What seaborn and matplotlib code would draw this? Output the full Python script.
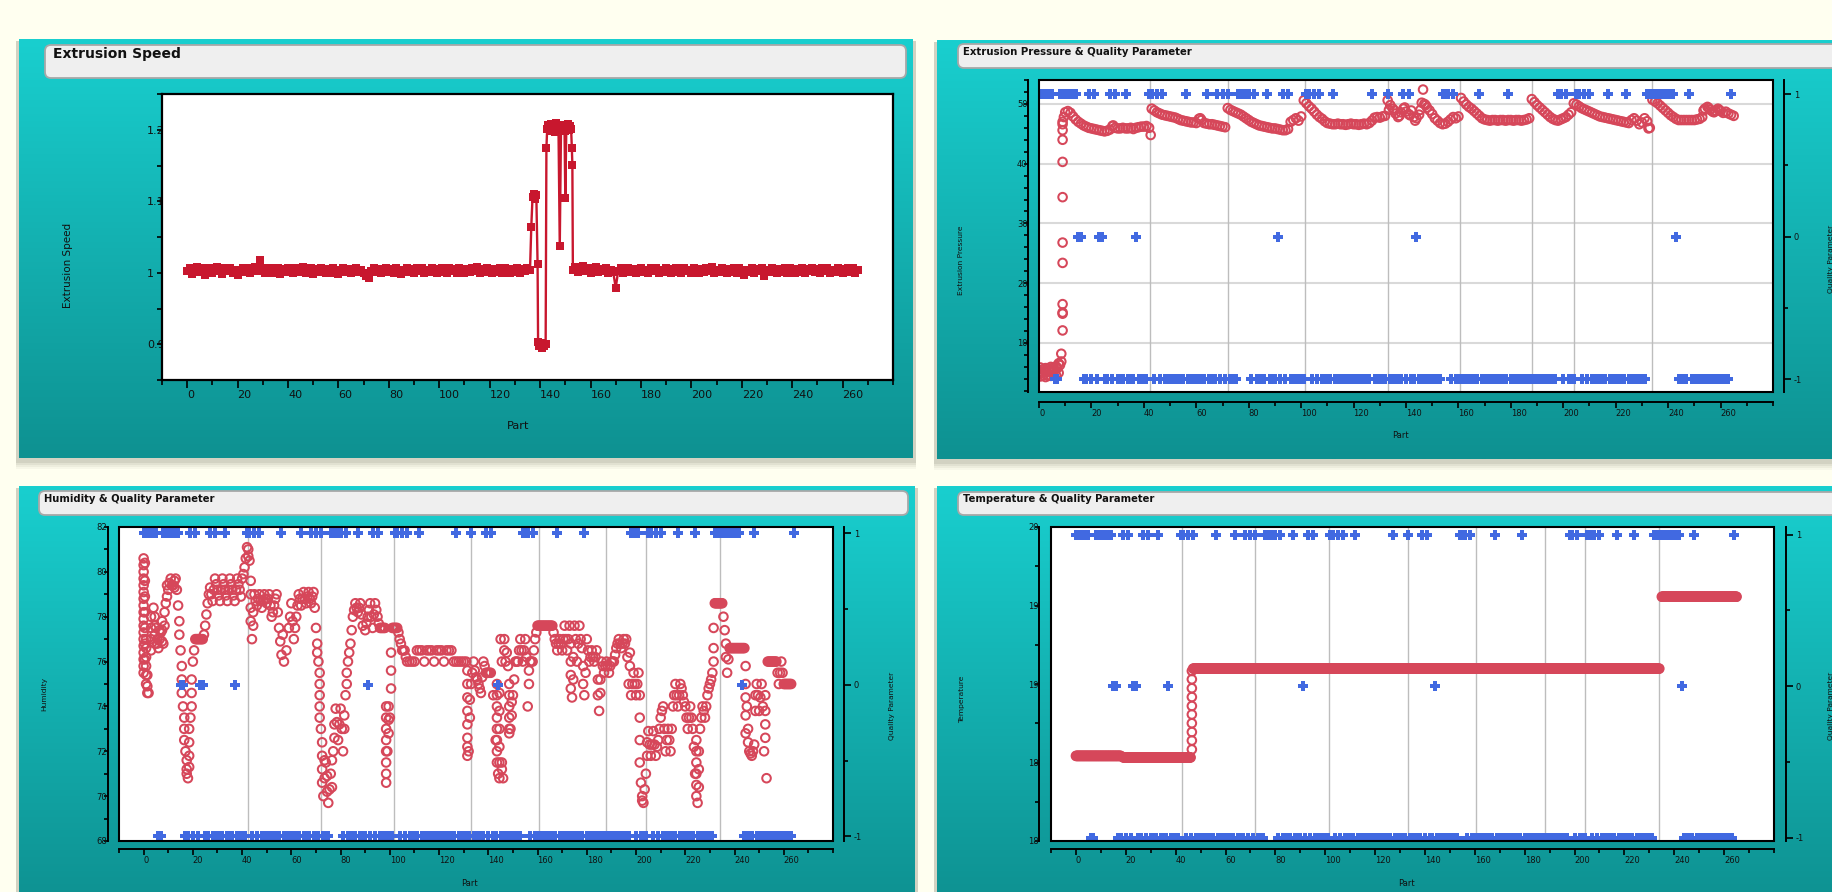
import numpy as np
import pandas as pd
import matplotlib
matplotlib.use("Agg")
import matplotlib.pyplot as plt
import seaborn as sns
from matplotlib.patches import FancyBboxPatch, Rectangle
from matplotlib.colors import LinearSegmentedColormap
from matplotlib.transforms import Bbox

# ------------------------------------------------------------------ data
# Extrusion speed: parts 0..135, anomaly region, parts 153..266
speed_parts_a = list(range(0, 136))
speed_a = [
    1.002, 1.007, 0.998, 1.004, 1.008, 1.001, 1.006, 0.997, 1.003, 1.007,
    1.000, 1.005, 1.008, 1.002, 0.998, 1.006, 1.003, 1.007, 1.000, 1.004,
    0.997, 1.003, 1.007, 1.001, 1.006, 0.999, 1.004, 1.008, 1.003, 1.018,
    1.006, 1.000, 1.004, 1.007, 0.999, 1.003, 1.006, 0.998, 1.005, 1.001,
    1.007, 1.003, 0.999, 1.006, 1.001, 1.004, 1.008, 1.000, 1.003, 1.006,
    0.998, 1.005, 1.001, 1.007, 1.003, 0.999, 1.005, 1.000, 1.006, 1.003,
    0.998, 1.004, 1.007, 1.001, 1.005, 0.999, 1.003, 1.006, 1.001, 1.004,
    1.000, 0.996, 0.992, 1.003, 1.006, 1.001, 1.005, 0.999, 1.003, 1.007,
    1.001, 1.005, 1.000, 1.006, 1.003, 0.998, 1.004, 1.007, 1.001, 1.005,
    1.000, 1.006, 1.003, 1.007, 0.999, 1.004, 1.001, 1.006, 1.003, 1.000,
    1.005, 1.007, 1.001, 0.999, 1.006, 1.003, 1.005, 1.000, 1.007, 1.003,
    0.999, 1.005, 1.001, 1.006, 1.003, 1.008, 1.000, 1.005, 1.001, 1.007,
    1.003, 0.999, 1.005, 1.001, 1.006, 1.000, 1.007, 1.003, 0.999, 1.005,
    1.001, 1.006, 1.000, 1.005, 1.003, 1.007,
]
speed_parts_b = [136.0, 136.5, 137.0, 137.5, 138.0, 138.5, 139.0, 139.2, 139.7, 140.2,
                 140.7, 141.2, 141.7, 142.2, 142.5, 142.8, 143.3, 143.8, 144.3, 144.8,
                 145.3, 145.8, 146.3, 146.8, 147.3, 147.8, 148.3, 148.8, 149.3, 149.7,
                 150.0, 150.4, 150.9, 151.4, 151.9, 152.3, 152.6, 152.8]
speed_b = [1.004, 1.064, 1.106, 1.110, 1.103, 1.109, 1.012, 0.903, 0.898, 0.902,
           0.895, 0.900, 0.897, 0.901, 1.174, 1.201, 1.206, 1.198, 1.208, 1.200,
           1.204, 1.197, 1.209, 1.202, 1.199, 1.037, 1.205, 1.200, 1.207, 1.198,
           1.104, 1.203, 1.208, 1.199, 1.205, 1.201, 1.174, 1.151]
speed_parts_c = list(range(153, 267))
speed_c = [
    1.004, 1.008, 1.001, 1.005, 1.009, 1.003, 1.007, 1.000, 1.004, 1.008,
    1.001, 1.005, 1.003, 1.007, 0.999, 1.004, 1.001, 0.979, 1.003, 1.006,
    1.000, 1.004, 1.007, 1.001, 1.005, 0.999, 1.003, 1.007, 1.001, 1.004,
    1.000, 1.006, 1.003, 1.007, 0.999, 1.004, 1.001, 1.006, 1.003, 1.000,
    1.005, 1.007, 1.001, 0.999, 1.006, 1.003, 1.004, 1.000, 1.007, 1.003,
    0.999, 1.005, 1.001, 1.006, 1.003, 1.008, 1.000, 1.004, 1.001, 1.007,
    1.003, 0.999, 1.005, 1.001, 1.006, 1.000, 1.007, 1.003, 0.997, 1.004,
    1.001, 1.006, 1.000, 1.005, 1.003, 1.007, 0.996, 1.004, 1.001, 1.007,
    1.003, 0.999, 1.005, 1.001, 1.006, 1.000, 1.007, 1.003, 0.999, 1.005,
    1.001, 1.006, 1.000, 1.005, 1.003, 1.007, 1.001, 1.005, 1.000, 1.006,
    1.003, 1.007, 0.999, 1.004, 1.001, 1.006, 1.003, 1.000, 1.005, 1.007,
    1.001, 1.006, 1.000, 1.004,
]

# Extrusion pressure, one reading per part 0..265
pressure = [
    5.2, 5.0, 5.3, 5.1, 5.4, 5.2, 5.5, 5.8, 6.3, 47.0,
    48.6, 48.8, 48.5, 47.9, 47.4, 47.0, 46.7, 46.4, 46.2, 46.0,
    45.9, 45.8, 45.7, 45.6, 45.5, 45.4, 45.5, 45.7, 46.3, 46.0,
    45.9, 45.9, 46.0, 45.9, 45.9, 46.0, 45.8, 46.0, 46.1, 46.2,
    46.2, 46.3, 46.0, 49.2, 48.9, 48.6, 48.4, 48.2, 48.1, 48.0,
    47.9, 47.8, 47.7, 47.5, 47.3, 47.2, 47.1, 47.0, 46.9, 46.9,
    46.8, 47.5, 47.3, 46.8, 46.7, 46.6, 46.6, 46.5, 46.4, 46.3,
    46.2, 46.1, 49.3, 49.0, 48.8, 48.6, 48.4, 48.2, 47.9, 47.6,
    47.3, 47.0, 46.8, 46.6, 46.4, 46.3, 46.2, 46.1, 46.0, 45.9,
    45.9, 45.8, 45.7, 45.6, 45.6, 45.8, 47.0, 47.3, 47.6, 47.2,
    47.9, 50.6, 50.1, 49.6, 49.2, 48.7, 48.2, 47.8, 47.5, 47.1,
    46.8, 46.7, 46.6, 46.6, 46.7, 46.6, 46.6, 46.5, 46.6, 46.7,
    46.6, 46.6, 46.5, 46.6, 46.7, 46.6, 46.8, 47.2, 47.7, 47.8,
    47.7, 47.9, 48.0, 50.6, 49.8, 49.2, 48.4, 47.8, 48.6, 49.2,
    48.7, 48.3, 48.9, 47.8, 47.6, 48.2, 50.2, 50.0, 49.4, 48.9,
    48.3, 47.6, 47.2, 46.8, 46.6, 46.7, 47.0, 47.4, 47.8, 47.6,
    47.9, 51.0, 50.4, 49.9, 49.5, 49.2, 48.8, 48.4, 48.0, 47.6,
    47.4, 47.3, 47.2, 47.3, 47.3, 47.2, 47.3, 47.3, 47.2, 47.3,
    47.3, 47.2, 47.3, 47.3, 47.2, 47.3, 47.4, 47.6, 50.8, 50.3,
    49.8, 49.4, 49.0, 48.6, 48.2, 47.8, 47.5, 47.3, 47.2, 47.4,
    47.6, 47.8, 48.2, 48.6, 50.1, 49.9, 49.6, 49.3, 49.1, 48.9,
    48.7, 48.5, 48.3, 48.1, 47.9, 47.8, 47.7, 47.6, 47.5, 47.4,
    47.3, 47.2, 47.1, 47.0, 46.9, 46.8, 47.3, 47.6, 47.2, 46.6,
    46.9, 47.6, 47.1, 46.0, 50.7, 50.4, 50.1, 49.7, 49.3, 48.9,
    48.5, 48.1, 47.8, 47.5, 47.3, 47.3, 47.3, 47.3, 47.3, 47.3,
    47.3, 47.4, 47.5, 47.8, 49.2, 49.5, 49.0, 48.7, 48.9, 49.2,
    48.8, 48.5, 48.7, 48.4, 48.2, 48.0,
]
# additional readings stacked at one part position (start-up ramp, outliers)
pressure_columns = [
    (0.5, [4.4, 5.9]), (1.5, [4.6, 5.6]), (2.5, [4.3, 5.8]), (3.5, [4.5, 5.7]),
    (4.5, [4.5, 6.0]), (5.5, [4.7, 5.9]), (6.5, [4.6, 6.1]),
    (7.5, [5.0, 6.6]), (8.5, [6.9, 8.2]),
    (9.0, [12.1, 14.9, 15.1, 16.5, 23.4, 26.8, 34.4, 40.3, 44.0, 45.6, 46.6]),
    (9.5, [47.8]), (28.3, [46.4]), (42.6, [44.8]), (61.5, [47.6]),
    (146.5, [52.4]), (232.5, [45.9]),
    (133.5, [49.0]), (135.5, [48.9]), (137.5, [48.0]), (139.5, [49.4]),
    (141.5, [48.1]), (143.5, [47.2]), (145.5, [49.0]), (147.5, [49.8]),
    (253.5, [48.9]), (255.5, [49.3]), (257.5, [48.6]), (259.5, [49.0]),
]

# Humidity, one reading per part 0..263
humidity = [
    80.6, 77.0, 74.6, 76.5, 78.4, 77.5, 76.6, 77.3, 76.8, 78.6,
    79.2, 79.7, 79.4, 79.7, 78.5, 76.5, 74.0, 72.0, 70.8, 73.5,
    76.0, 77.0, 77.0, 77.0, 77.0, 77.6, 78.6, 79.3, 78.7, 79.7,
    79.2, 78.7, 79.7, 79.2, 78.7, 79.7, 79.2, 78.7, 79.7, 79.2,
    79.7, 80.2, 81.1, 80.5, 77.0, 79.0, 78.5, 79.0, 78.4, 79.0,
    78.6, 79.0, 78.0, 78.5, 79.0, 77.5, 76.3, 76.0, 76.5, 77.5,
    78.6, 77.0, 78.0, 79.0, 78.5, 79.1, 78.6, 79.1, 78.6, 79.1,
    77.5, 76.0, 73.0, 70.0, 71.5, 69.7, 71.0, 72.0, 73.9, 72.5,
    73.9, 72.0, 74.5, 76.0, 76.8, 78.0, 78.6, 78.2, 78.6, 77.6,
    77.4, 78.0, 78.6, 77.5, 78.6, 78.0, 77.5, 77.5, 77.5, 72.0,
    73.5, 77.5, 77.5, 77.5, 77.0, 76.5, 76.5, 76.0, 76.0, 76.0,
    76.0, 76.5, 76.5, 76.5, 76.0, 76.5, 76.5, 76.5, 76.0, 76.5,
    76.5, 76.5, 76.0, 76.5, 76.5, 76.5, 76.0, 76.0, 76.0, 76.0,
    76.0, 76.0, 72.0, 75.0, 76.0, 75.3, 75.0, 74.6, 76.0, 75.5,
    75.5, 75.5, 74.5, 72.5, 71.0, 77.0, 70.8, 76.0, 75.8, 73.0,
    74.5, 76.0, 76.0, 77.0, 76.0, 77.0, 74.0, 76.0, 76.0, 77.0,
    77.6, 77.6, 77.6, 77.6, 77.6, 77.6, 77.6, 77.0, 76.5, 77.0,
    76.5, 77.6, 76.5, 77.6, 74.4, 77.6, 76.0, 77.6, 76.6, 74.5,
    77.0, 76.0, 76.5, 76.0, 76.5, 73.8, 76.0, 75.5, 76.0, 75.5,
    76.0, 76.0, 76.6, 77.0, 76.6, 77.0, 77.0, 75.0, 74.5, 75.5,
    74.5, 75.5, 70.6, 69.7, 71.0, 72.9, 71.8, 72.9, 71.8, 72.5,
    73.5, 74.0, 72.0, 73.0, 72.0, 74.0, 75.0, 74.0, 75.0, 74.5,
    74.0, 73.0, 74.0, 73.0, 71.0, 69.7, 73.0, 74.0, 73.5, 74.5,
    75.0, 75.5, 78.6, 78.6, 78.6, 78.6, 77.4, 75.5, 76.6, 76.6,
    76.6, 76.6, 76.6, 76.6, 76.6, 74.0, 72.0, 71.8, 72.3, 75.0,
    73.8, 75.0, 72.0, 70.8, 76.0, 76.0, 76.0, 76.0, 75.0, 76.0,
    75.0, 75.0, 75.0, 75.0,
]
# additional humidity readings stacked at one part position
humidity_columns = [
    (0.0, [80.3, 80.0, 79.7, 79.4, 79.1, 78.8, 78.5, 78.2, 77.9, 77.6, 77.3, 77.0,
           76.7, 76.4, 76.1, 75.8, 75.5]),
    (0.5, [80.4, 79.6, 78.9, 78.2, 77.5, 76.8, 76.1]),
    (1.0, [76.6, 76.2, 75.8, 75.4, 75.0]),
    (1.5, [75.4, 74.9, 74.6]),
    (3.0, [77.0, 77.5, 78.0]),
    (4.5, [78.0, 77.6, 77.2, 76.8]),
    (5.5, [77.0, 76.8]), (6.5, [77.0, 77.4]),
    (7.5, [77.8, 76.9, 77.4]),
    (8.5, [77.6, 78.2]),
    (9.5, [78.9, 79.4]),
    (10.5, [79.5]), (11.5, [79.4]),
    (12.5, [79.3, 79.6]),
    (13.5, [79.2]),
    (14.5, [77.8, 77.2]),
    (15.5, [75.8, 75.2, 74.6]),
    (16.5, [73.5, 73.0, 72.5]),
    (17.5, [71.6, 71.2, 71.0]),
    (18.5, [71.3, 71.8, 72.4, 73.0]),
    (19.5, [74.0, 74.6, 75.2]),
    (20.5, [76.5]), (21.5, [77.0]), (22.5, [77.0]), (23.5, [77.0]), (24.5, [77.2]),
    (25.5, [78.1]), (26.5, [79.0]),
    (27.5, [79.0]), (28.5, [79.2]),
    (29.5, [79.45]), (30.5, [78.95]), (31.5, [79.2]), (32.5, [79.45]),
    (33.5, [78.95]), (34.5, [79.2]), (35.5, [79.45]), (36.5, [78.95]),
    (37.5, [79.2]), (38.5, [79.45]), (39.5, [78.9]), (40.5, [79.9]), (41.5, [80.6]),
    (42.5, [81.0, 80.7]),
    (43.5, [79.6, 79.0, 78.4, 77.8]),
    (44.5, [77.6, 78.2]),
    (45.5, [78.7]), (46.5, [78.8]), (47.5, [78.7]), (48.5, [78.7]), (49.5, [78.8]),
    (50.5, [78.8]), (51.5, [78.5]), (52.5, [78.2]), (53.5, [78.8]),
    (54.5, [78.2]),
    (55.5, [76.9]), (56.5, [77.2]),
    (59.5, [78.0]), (60.5, [77.8]), (61.5, [77.5]), (62.5, [78.5]),
    (63.5, [78.8]), (64.5, [78.8]), (65.5, [78.8]), (66.5, [78.9]),
    (67.5, [78.8]), (68.5, [78.9]), (69.5, [78.4]),
    (70.5, [76.8, 76.4]),
    (71.5, [75.5, 75.0, 74.5, 74.0, 73.5]),
    (72.5, [72.4, 71.8, 71.2, 70.6]),
    (73.5, [70.8, 71.6]),
    (74.5, [70.2, 70.9]),
    (75.5, [70.3]),
    (76.5, [70.4, 71.6]),
    (77.5, [72.6, 73.2]),
    (78.5, [73.3]),
    (79.5, [73.2]),
    (80.5, [73.0]),
    (81.5, [73.0, 73.6]),
    (82.5, [75.0, 75.5]),
    (83.5, [76.4]), (84.5, [77.4]),
    (85.5, [78.3]), (86.5, [78.4]), (87.5, [78.4]), (88.5, [78.1]),
    (90.5, [77.7]), (91.5, [78.3]), (92.5, [78.0]), (93.5, [78.1]),
    (94.5, [78.3]), (95.5, [77.7]), (96.5, [77.5]), (97.5, [77.5]),
    (98.5, [74.0, 73.5, 73.0, 72.5, 72.0, 71.5, 71.0, 70.6]),
    (99.5, [72.8, 73.4, 74.0]),
    (100.5, [74.8, 75.6, 76.4]),
    (101.5, [77.5]), (102.5, [77.5]), (103.5, [77.3]), (104.5, [76.8]),
    (105.5, [76.5]), (106.5, [76.2]),
    (131.5, [75.6, 75.0, 74.4, 73.8, 73.2, 72.6, 72.2, 71.8]),
    (132.5, [73.5, 74.3]),
    (133.5, [75.5]), (134.5, [75.6]), (135.5, [75.2]), (136.5, [74.8]),
    (137.5, [75.3]), (138.5, [75.8]), (139.5, [75.5]), (140.5, [75.5]),
    (143.5, [75.0, 74.5, 74.0, 73.5, 73.0, 72.5, 72.0, 71.5]),
    (144.5, [74.6, 73.8, 73.0, 72.2, 71.5, 70.8]),
    (145.5, [71.5, 71.2, 76.0]),
    (146.5, [76.5, 77.0]),
    (147.5, [76.4]),
    (148.5, [75.0, 74.5, 74.0, 73.5, 73.0, 72.8]),
    (149.5, [73.6, 74.2]),
    (150.5, [75.2]), (151.5, [76.0]), (152.5, [76.5]), (153.5, [76.5]),
    (154.5, [76.5]), (155.5, [76.2]),
    (156.5, [75.0, 75.6]),
    (157.5, [76.0]),
    (158.5, [76.5]),
    (159.5, [77.3]),
    (160.5, [77.6]), (161.5, [77.6]), (162.5, [77.6]), (163.5, [77.6]),
    (164.5, [77.6]), (165.5, [77.6]), (166.5, [77.3]),
    (167.5, [76.8]), (168.5, [76.8]), (169.5, [76.8]), (170.5, [77.0]),
    (171.5, [77.0]), (172.5, [77.0]),
    (173.5, [76.8, 76.0, 75.4, 74.8]),
    (174.5, [75.2, 76.2]),
    (175.5, [77.0]), (176.5, [76.8]), (177.5, [77.0]),
    (178.5, [75.8, 75.0]),
    (179.5, [75.5]), (180.5, [76.5]), (181.5, [76.2]), (182.5, [76.2]),
    (183.5, [76.2]),
    (184.5, [75.2, 74.5]),
    (185.5, [74.6, 75.2]),
    (186.5, [75.8]), (187.5, [75.8]), (188.5, [75.8]), (189.5, [75.8]),
    (190.5, [76.0]), (191.5, [76.3]), (192.5, [76.8]), (193.5, [76.8]),
    (194.5, [76.8]), (195.5, [76.8]), (196.5, [76.2]),
    (197.5, [75.8, 76.4]),
    (198.5, [75.0]), (199.5, [75.0]), (200.5, [75.0]),
    (201.5, [74.5, 73.5, 72.5, 71.5]),
    (202.5, [70.0, 69.8]),
    (203.5, [70.3]),
    (204.5, [71.8, 72.4]),
    (205.5, [72.3]), (206.5, [72.3]), (207.5, [72.3]), (208.5, [72.2]),
    (209.5, [73.0]), (210.5, [73.8]), (211.5, [73.0]), (212.5, [72.5]),
    (213.5, [72.5]), (214.5, [73.0]), (215.5, [74.5]), (216.5, [74.5]),
    (217.5, [74.5]), (218.5, [74.8]), (219.5, [74.2]), (220.5, [73.5]),
    (221.5, [73.5]), (222.5, [73.5]), (223.5, [72.2]),
    (224.5, [72.5, 72.0, 71.5, 71.0, 70.5, 70.0]),
    (225.5, [70.4, 71.2, 72.0]),
    (226.5, [73.5]), (227.5, [73.8]), (228.5, [74.0]), (229.5, [74.8]),
    (230.5, [75.2]),
    (231.5, [76.0, 76.6, 77.5]),
    (232.5, [78.6]), (233.5, [78.6]), (234.5, [78.6]), (235.5, [78.0]),
    (236.5, [76.8, 76.2]),
    (237.5, [76.1]), (238.5, [76.6]), (239.5, [76.6]), (240.5, [76.6]),
    (241.5, [76.6]), (242.5, [76.6]), (243.5, [76.6]),
    (244.5, [75.8, 75.0, 74.4, 73.6, 72.8]),
    (245.5, [73.0, 72.4]),
    (246.5, [71.9]), (247.5, [72.0]),
    (248.5, [73.8, 74.5]),
    (249.5, [74.5]), (250.5, [74.4]), (251.5, [74.0]),
    (252.5, [74.5, 73.8, 73.2, 72.6]),
    (253.5, [76.0]), (254.5, [76.0]), (255.5, [76.0]), (256.5, [76.0]),
    (257.5, [75.5]), (258.5, [75.5]), (259.5, [75.5]), (260.5, [75.0]),
    (261.5, [75.0]), (262.5, [75.0]),
]

# Temperature: constant levels over part ranges, plus the ramp readings
temp_levels = [18.542, 18.532, 19.098, 19.556]
temp_first_part = [0, 19, 47, 235]
temp_last_part = [18, 46, 234, 265]
temp_step = 0.25  # readings are taken several times per part
temp_ramp_part = 46.5
temp_ramp = [18.583, 18.640, 18.694, 18.750, 18.806, 18.860, 18.917, 18.973, 19.030, 19.083]

# Quality parameter per part 0..264
quality = [
    1, 1, 1, 1, 1, 1, -1, -1, 1, 1,
    1, 1, 1, 1, 1, 0, 0, -1, -1, 1,
    -1, 1, -1, 0, 0, -1, -1, 1, -1, 1,
    -1, -1, -1, 1, -1, -1, -1, 0, -1, -1,
    -1, -1, 1, 1, -1, 1, -1, 1, -1, -1,
    -1, -1, -1, -1, -1, -1, 1, -1, -1, -1,
    -1, -1, -1, -1, 1, -1, -1, -1, 1, -1,
    1, -1, 1, -1, -1, -1, 1, 1, 1, 1,
    1, -1, 1, -1, -1, -1, -1, 1, -1, -1,
    -1, 0, -1, 1, -1, 1, -1, -1, -1, -1,
    -1, -1, 1, 1, -1, 1, -1, 1, -1, -1,
    -1, -1, 1, -1, -1, -1, -1, -1, -1, -1,
    -1, -1, -1, -1, -1, -1, -1, 1, -1, -1,
    -1, -1, -1, 1, -1, -1, -1, -1, -1, 1,
    -1, 1, -1, -1, 0, -1, -1, -1, -1, -1,
    -1, -1, -1, -1, 1, 1, 1, -1, 1, -1,
    -1, -1, -1, -1, -1, -1, -1, -1, 1, -1,
    -1, -1, -1, -1, -1, -1, -1, -1, -1, 1,
    -1, -1, -1, -1, -1, -1, -1, -1, -1, -1,
    -1, -1, -1, -1, -1, -1, -1, -1, 1, 1,
    -1, 1, -1, -1, -1, 1, 1, -1, 1, -1,
    1, -1, -1, -1, -1, -1, -1, 1, -1, -1,
    -1, -1, -1, -1, 1, -1, -1, -1, -1, -1,
    -1, -1, 1, 1, 1, 1, 1, 1, 1, 1,
    1, 1, 1, 0, -1, -1, -1, -1, 1, -1,
    -1, -1, -1, -1, -1, -1, -1, -1, -1, -1,
    -1, -1, -1, -1, 1,
]

# part numbers where a new batch starts (vertical reference lines)
batch_starts = [42.5, 72, 101.5, 133, 160.5, 188, 204, 234]
pressure_grid = [10, 20, 30, 40, 50]

titles = ["Extrusion Speed", "Extrusion Pressure & Quality Parameter",
          "Humidity & Quality Parameter", "Temperature & Quality Parameter"]

assert len(speed_a) == len(speed_parts_a)
assert len(speed_b) == len(speed_parts_b)
assert len(speed_c) == len(speed_parts_c)
assert len(pressure) == 266, len(pressure)
assert len(humidity) == 264, len(humidity)
assert len(quality) == 265, len(quality)

# ------------------------------------------------------------------ frames
speed_df = pd.DataFrame({"Part": speed_parts_a + speed_parts_b + speed_parts_c,
                         "Extrusion Speed": speed_a + speed_b + speed_c})

p_parts = list(range(len(pressure)))
p_vals = list(pressure)
for part, vals in pressure_columns:
    p_parts += [part] * len(vals)
    p_vals += vals
pressure_df = pd.DataFrame({"Part": p_parts, "Extrusion Pressure": p_vals})

h_parts = list(range(len(humidity)))
h_vals = list(humidity)
for part, vals in humidity_columns:
    h_parts += [part] * len(vals)
    h_vals += vals
humidity_df = pd.DataFrame({"Part": h_parts, "Humidity": h_vals})

t_parts, t_vals = [], []
for lev, a, b in zip(temp_levels, temp_first_part, temp_last_part):
    rng = list(np.arange(a, b + temp_step / 2, temp_step))
    t_parts += rng
    t_vals += [lev] * len(rng)
t_parts += [temp_ramp_part] * len(temp_ramp)
t_vals += temp_ramp
temp_df = pd.DataFrame({"Part": t_parts, "Temperature": t_vals})

quality_df = pd.DataFrame({"Part": list(range(len(quality))), "Quality Parameter": quality})

# ------------------------------------------------------------------ style
sns.set_theme(style="ticks")
plt.rcParams["font.family"] = ["DejaVu Sans"]
plt.rcParams["axes.unicode_minus"] = False

SPEED_RED = "#C8172E"
RED = "#D6475A"
BLUE = "#4169E1"
TXT = "#111111"
PT = 0.72  # points per pixel at dpi 100

W, H = 1833, 892
fig = plt.figure(figsize=(W / 100, H / 100), dpi=100)
fig.patch.set_facecolor("#FFFFF0")


def fig_box(x0, y0, x1, y1):
    return [x0 / W, 1 - y1 / H, (x1 - x0) / W, (y1 - y0) / H]


def px_to_axes(frame, px, py):
    x0, y0, x1, y1 = frame
    return (px - x0) / (x1 - x0), (y1 - py) / (y1 - y0)


# background: panels, shadows, title boxes
bg = fig.add_axes([0, 0, 1, 1], zorder=-10)
bg.set_autoscale_on(False)
bg.axis("off")
teal = LinearSegmentedColormap.from_list("teal", ["#19CFCF", "#0E9191"])
grad = np.linspace(0, 1, 256).reshape(-1, 1)
panels = [(19, 39, 913, 458), (937, 40, 1900, 459), (19, 486, 915, 905), (937, 486, 1900, 905)]
for x0, y0, x1, y1 in panels:
    for k, a in [(9, 0.05), (7, 0.07), (5, 0.09), (3, 0.12)]:
        bg.add_patch(Rectangle((x0 - 3, y0 + 2), x1 - x0 + 6, y1 - y0 + k,
                               fc="#6A6A58", ec="none", alpha=a, zorder=1))
    bg.imshow(grad, extent=(x0, x1, y1, y0), cmap=teal, aspect="auto",
              zorder=2, interpolation="bilinear")

title_boxes = [(45, 45, 906, 78), (958, 44, 1900, 68), (39, 491, 908, 515), (958, 492, 1900, 515)]
title_pos = [(53, 54, 10), (963, 52, 7.3), (44, 499, 7.2), (963, 499, 7.2)]
for (x0, y0, x1, y1), (tx, ty, fs), ttl in zip(title_boxes, title_pos, titles):
    bg.add_patch(FancyBboxPatch((x0, y0), x1 - x0, y1 - y0,
                                boxstyle="round,pad=0,rounding_size=6",
                                fc="#EFEFEF", ec="#A8A8A8", lw=1.3, zorder=3))
    bg.text(tx, ty, ttl, fontsize=fs, fontweight="bold", color=TXT,
            ha="left", va="center", zorder=4)
bg.set_xlim(0, W)
bg.set_ylim(H, 0)


def style_x(ax, fs, major_len, minor_len, pad):
    majors = list(range(0, 261, 20))
    ax.set_xticks(majors, labels=[str(v) for v in majors], ha="left", fontsize=fs, color=TXT)
    ax.set_xticks([v for v in range(-10, 281, 10) if v not in majors], minor=True)
    ax.tick_params(axis="x", which="major", direction="out", length=major_len * PT,
                   width=1.2, pad=pad * PT, bottom=True, color="black")
    ax.tick_params(axis="x", which="minor", direction="out", length=minor_len * PT,
                   width=1.2, bottom=True, color="black")


def style_y(ax, majors, labels, minors, fs, tick_len, label_offset, spine_px):
    ax.set_yticks(majors, labels=labels, ha="left", fontsize=fs, color=TXT)
    ax.set_yticks(minors, minor=True)
    ax.tick_params(axis="y", which="both", direction="out", length=tick_len * PT,
                   width=1.2, pad=(label_offset - tick_len) * PT, left=True, color="black")
    clip = Bbox.from_extents(0, 0, spine_px, H)
    for t in ax.yaxis.get_majorticklabels():
        t.set_clip_box(clip)
        t.set_clip_on(True)


def set_xlabel_at(ax, frame, text, px, py, fs):
    ax.set_xlabel(text, fontsize=fs, color=TXT)
    ax.xaxis.set_label_coords(*px_to_axes(frame, px, py))
    ax.xaxis.label.set_va("center")


def set_ylabel_at(ax, frame, text, px, py, fs):
    ax.set_ylabel(text, fontsize=fs, color=TXT)
    ax.yaxis.set_label_coords(*px_to_axes(frame, px, py))
    ax.yaxis.label.set_va("center")
    ax.yaxis.label.set_ha("center")


def quality_axis(ax, frame, ylim, offset_px, fs, label_px, label_py):
    axq = ax.twinx()
    sns.scatterplot(data=quality_df, x="Part", y="Quality Parameter", ax=axq,
                    marker="P", s=56, color=BLUE, edgecolor=BLUE, linewidth=0,
                    legend=False, zorder=4)
    axq.set_ylim(*ylim)
    for s in ["left", "top", "bottom"]:
        axq.spines[s].set_visible(False)
    axq.spines["right"].set_position(("outward", offset_px * PT))
    axq.spines["right"].set_color("black")
    axq.spines["right"].set_linewidth(1.4)
    axq.set_yticks([-1, 0, 1], labels=["-1", "0", "1"], fontsize=fs, color=TXT)
    axq.set_yticks([-0.5, 0.5], minor=True)
    axq.tick_params(axis="y", which="major", direction="out", length=7 * PT, width=1.2,
                    pad=3 * PT, right=True, color="black")
    axq.tick_params(axis="y", which="minor", direction="out", length=4 * PT, width=1.2,
                    right=True, color="black")
    set_ylabel_at(axq, frame, "Quality Parameter", label_px, label_py, 5.4)
    axq.add_patch(Rectangle((0, 0), 1, 1, transform=axq.transAxes, fill=False,
                            ec="black", lw=1.5, clip_on=False, zorder=10))
    return axq


def detached_axes(ax, left_px, bottom_px):
    ax.set_facecolor("white")
    for s in ["top", "right"]:
        ax.spines[s].set_visible(False)
    for s in ["left", "bottom"]:
        ax.spines[s].set_color("black")
        ax.spines[s].set_linewidth(1.4)
    ax.spines["left"].set_position(("outward", left_px * PT))
    ax.spines["bottom"].set_position(("outward", bottom_px * PT))


CIRCLE = dict(marker="o", s=38, color=RED, facecolor="none", edgecolor=RED,
              linewidth=1.45, legend=False, zorder=3)

# ------------------------------------------------------------------ 1: speed
f1 = (162, 94, 893, 380)
ax1 = fig.add_axes(fig_box(*f1))
ax1.set_facecolor("white")
sns.lineplot(data=speed_df, x="Part", y="Extrusion Speed", ax=ax1, color=SPEED_RED,
             marker="s", markersize=5.4, markeredgewidth=0, markeredgecolor=SPEED_RED,
             linewidth=1.7, estimator=None, sort=False, legend=False)
ax1.set_xlim(-10, 280)
ax1.set_ylim(0.85, 1.25)
for s in ax1.spines.values():
    s.set_visible(True)
    s.set_color("black")
    s.set_linewidth(1.6)
style_x(ax1, 8, 8, 5, 1.5)
style_y(ax1, [0.9, 1.0, 1.1, 1.2], ["0.9", "1", "1.1", "1.2"],
        [0.85, 0.95, 1.05, 1.15, 1.25], 8, 5, 15, 162)
set_xlabel_at(ax1, f1, "Part", 518, 426, 8.2)
set_ylabel_at(ax1, f1, "Extrusion Speed", 68, 265, 7.5)

# ------------------------------------------------------------------ 2: pressure
f2 = (1039, 80, 1773, 392)
ax2 = fig.add_axes(fig_box(*f2))
detached_axes(ax2, 11, 10)
for g in pressure_grid:
    ax2.axhline(g, color="#D9D9D9", lw=1.5, zorder=1)
for b in batch_starts:
    ax2.axvline(b, color="#BDBDBD", lw=1.0, zorder=1)
sns.scatterplot(data=pressure_df, x="Part", y="Extrusion Pressure", ax=ax2, **CIRCLE)
ax2.set_ylim(1.8, 54)
style_x(ax2, 6, 6, 4, 1)
style_y(ax2, [10, 20, 30, 40, 50], ["10", "20", "30", "40", "50"],
        [v for v in range(2, 55, 2) if v % 10], 6, 4, 11, 1028)
set_xlabel_at(ax2, f2, "Part", 1400, 436, 6)
set_ylabel_at(ax2, f2, "Extrusion Pressure", 961, 260, 5.4)
q2 = quality_axis(ax2, f2, (-1.09, 1.1), 11, 6, 1831, 259)
ax2.set_xlim(0, 280)

# ------------------------------------------------------------------ 3: humidity
f3 = (119, 527, 833, 841)
ax3 = fig.add_axes(fig_box(*f3))
detached_axes(ax3, 11, 8)
for b in batch_starts:
    ax3.axvline(b, color="#BDBDBD", lw=1.0, zorder=1)
sns.scatterplot(data=humidity_df, x="Part", y="Humidity", ax=ax3, **CIRCLE)
ax3.set_ylim(68, 82)
style_x(ax3, 6, 6, 4, 1)
style_y(ax3, list(range(68, 83, 2)), [str(v) for v in range(68, 83, 2)],
        list(range(69, 82, 2)), 6, 4, 12, 108)
set_xlabel_at(ax3, f3, "Part", 469, 883, 6)
set_ylabel_at(ax3, f3, "Humidity", 44, 694, 5.4)
q3 = quality_axis(ax3, f3, (-1.03, 1.04), 11, 6, 892, 706)
ax3.set_xlim(-10, 280)

# ------------------------------------------------------------------ 4: temperature
f4 = (1051, 527, 1774, 841)
ax4 = fig.add_axes(fig_box(*f4))
detached_axes(ax4, 12, 8)
for b in batch_starts:
    ax4.axvline(b, color="#BDBDBD", lw=1.0, zorder=1)
sns.scatterplot(data=temp_df, x="Part", y="Temperature", ax=ax4, **CIRCLE)
ax4.set_ylim(18, 20)
style_x(ax4, 6, 6, 4, 1)
style_y(ax4, [18, 18.5, 19, 19.5, 20], ["18", "18.5", "19", "19.5", "20"],
        [18.25, 18.75, 19.25, 19.75], 6, 4, 11, 1039)
set_xlabel_at(ax4, f4, "Part", 1406, 883, 6)
set_ylabel_at(ax4, f4, "Temperature", 962, 699, 5.4)
q4 = quality_axis(ax4, f4, (-1.02, 1.05), 12, 6, 1831, 706)
ax4.set_xlim(-10, 280)

fig.savefig("out.png", dpi=100, facecolor=fig.get_facecolor())
